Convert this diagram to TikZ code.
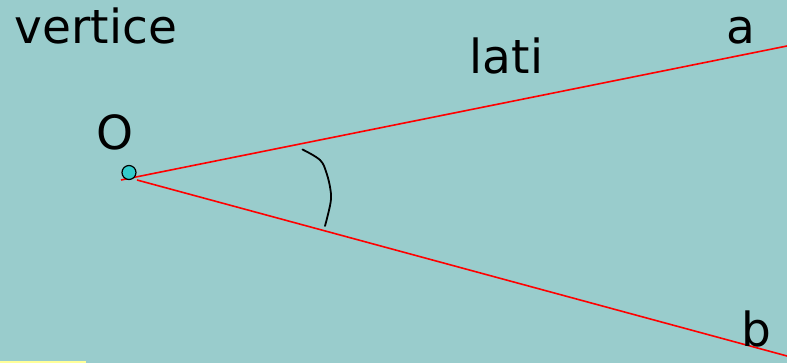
\documentclass[tikz,border=0pt]{standalone}
\usepackage{fontspec}
\setmainfont{DejaVu Sans}
\definecolor{bgteal}{RGB}{153,204,204}
\definecolor{ptfill}{RGB}{51,204,204}
\definecolor{stripyellow}{RGB}{255,255,153}
\begin{document}
\begin{tikzpicture}[x=1pt,y=-1pt,
  lbl/.style={inner sep=0pt,anchor=base,font=\fontsize{47}{50}\selectfont},
  side/.style={red,line width=1.6pt},
  anglemark/.style={black,line width=1.8pt,line cap=round}]
\fill[bgteal] (0,0) rectangle (787,363);
\useasboundingbox (0,0) rectangle (787,363);
\fill[stripyellow] (0,361) rectangle (86,363);
% vertex and side ends
\coordinate (V1) at (121,180);
\coordinate (V2) at (137,180);
\coordinate (A) at (787,46);
\coordinate (B) at (787,356);
\draw[side] (V1) -- (A);
\draw[side] (V2) -- (B);
\node[circle,draw=black,line width=1.2pt,fill=ptfill,minimum size=14pt,inner sep=0pt] (O) at (129,172.5) {};
% angle mark
\draw[anglemark] plot[smooth,tension=0.6] coordinates {(302.5,149.5) (320,160) (326.5,173) (330.5,190) (330.5,203) (325,226)};
% labels
\node[lbl] (tv) at (96,44) {vertice};
\node[lbl] (tl) at (506.5,74) {lati};
\node[lbl] (ta) at (740.5,44) {a};
\node[lbl] (tb) at (756,346) {b};
\node[lbl] (to) at (114.5,150) {O};
\end{tikzpicture}
\end{document}
